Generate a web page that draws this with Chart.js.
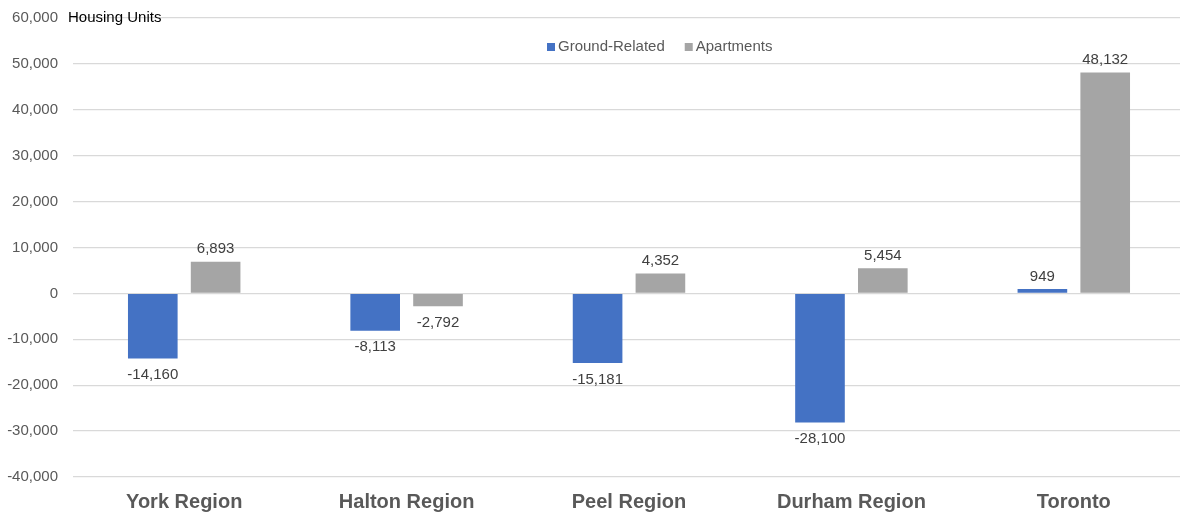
<!DOCTYPE html>
<html>
<head>
<meta charset="utf-8">
<script src="https://cdn.jsdelivr.net/npm/chart.js@4"></script>
<style>
  html, body { margin: 0; background: #fff; overflow: hidden; }
  #wrap { width: 1185px; height: 515px; }
</style>
</head>
<body>
<div id="wrap"><canvas id="grafico"></canvas></div>
<script>
const regioes = ['York Region', 'Halton Region', 'Peel Region', 'Durham Region', 'Toronto'];
const groundRelated = [-14160, -8113, -15181, -28100, 949];
const apartments = [6893, -2792, 4352, 5454, 48132];
const seriesNames = ['Ground-Related', 'Apartments'];
const seriesColors = ['#4472C4', '#A5A5A5'];

const fmt = v => v.toLocaleString('en-US');
const fonte = '"Liberation Sans", Arial, sans-serif';

// rótulos de valor sobre/abaixo das barras
const rotulos = {
  id: 'rotulos',
  afterDatasetsDraw(chart) {
    const ctx = chart.ctx;
    ctx.save();
    ctx.font = '15px ' + fonte;
    ctx.fillStyle = '#404040';
    ctx.textAlign = 'center';
    chart.data.datasets.forEach((ds, i) => {
      chart.getDatasetMeta(i).data.forEach((bar, j) => {
        const v = ds.data[j];
        if (v >= 0) {
          ctx.textBaseline = 'bottom';
          ctx.fillText(fmt(v), bar.x, bar.y - 5);
        } else {
          ctx.textBaseline = 'top';
          ctx.fillText(fmt(v), bar.x, bar.y + 9);
        }
      });
    });
    ctx.restore();
  }
};

// título do eixo e legenda dentro da área
const extras = {
  id: 'extras',
  afterDraw(chart) {
    const ctx = chart.ctx;
    const area = chart.chartArea;
    ctx.save();
    ctx.font = '15px ' + fonte;
    ctx.fillStyle = '#000';
    ctx.textAlign = 'left';
    ctx.textBaseline = 'middle';
    ctx.fillText('Housing Units', area.left - 5, area.top);

    let x = 547;
    const y = 47;
    seriesNames.forEach((nome, i) => {
      ctx.fillStyle = seriesColors[i];
      ctx.fillRect(x, y - 4, 8, 8);
      ctx.fillStyle = '#595959';
      ctx.fillText(nome, x + 11, y);
      x += 11 + ctx.measureText(nome).width + 20;
    });
    ctx.restore();
  }
};

new Chart(document.getElementById('grafico'), {
  type: 'bar',
  data: {
    labels: regioes,
    datasets: [
      { label: seriesNames[0], data: groundRelated, backgroundColor: seriesColors[0] },
      { label: seriesNames[1], data: apartments, backgroundColor: seriesColors[1] }
    ]
  },
  options: {
    responsive: true,
    maintainAspectRatio: false,
    animation: false,
    categoryPercentage: 0.565,
    barPercentage: 0.79,
    layout: { padding: { top: 18, right: 0, left: 5, bottom: 0 } },
    plugins: {
      legend: { display: false },
      tooltip: { enabled: false }
    },
    scales: {
      x: {
        grid: { display: false, drawTicks: false },
        border: { display: false },
        afterFit: s => { s.height = 38; },
        ticks: {
          color: '#595959',
          font: { family: fonte, size: 20, weight: 'bold' },
          padding: 13
        }
      },
      y: {
        min: -40000,
        max: 60000,
        border: { display: false },
        afterFit: s => { s.width = 68; s.paddingTop = 0; s.paddingBottom = 0; },
        grid: { color: '#d9d9d9', lineWidth: 1.3, drawTicks: false },
        ticks: {
          stepSize: 10000,
          color: '#595959',
          padding: 15,
          font: { family: fonte, size: 15 },
          callback: v => fmt(v)
        }
      }
    }
  },
  plugins: [rotulos, extras]
});
</script>
</body>
</html>
